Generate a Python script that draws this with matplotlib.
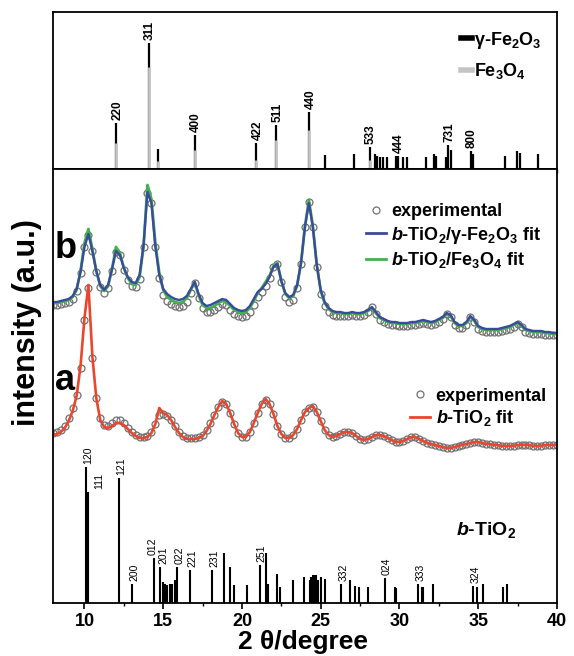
import numpy as np
import matplotlib
matplotlib.use('Agg')
import matplotlib.pyplot as plt
from matplotlib.lines import Line2D
from matplotlib.ticker import MultipleLocator

plt.rcParams['font.family'] = ['Liberation Sans', 'DejaVu Sans']
plt.rcParams['mathtext.fontset'] = 'custom'
plt.rcParams['mathtext.rm'] = 'Liberation Sans:bold'
plt.rcParams['mathtext.it'] = 'Liberation Sans:italic:bold'
plt.rcParams['mathtext.bf'] = 'Liberation Sans:bold'

# 2theta sampling of the measured patterns (degrees)
two_theta = np.arange(8.0, 40.001, 0.25)

# pattern b (relative intensity above its own baseline)
b_exp = [30, 30, 31, 32, 33, 36, 44, 62, 88, 100, 84, 63, 48, 42, 47, 64, 83, 80, 65, 55,
         49, 48, 56, 88, 142, 132, 88, 57, 40, 34, 31, 29, 28, 29, 33, 42, 52, 37, 27, 23,
         23, 25, 28, 31, 30, 25, 21, 19, 18, 19, 23, 30, 38, 43, 49, 57, 68, 71, 53, 38,
         33, 35, 47, 71, 108, 133, 108, 68, 41, 29, 23, 20, 19, 19, 19, 19, 20, 19, 19, 20,
         23, 28, 21, 15,
         13, 11, 10, 10, 9, 9, 9, 10, 10, 11, 12, 11, 10, 11, 13, 16, 21, 18, 10, 7,
         7, 10, 18, 13, 6, 4, 3, 3, 3, 3, 4, 5, 6, 8, 11, 8, 3, 2, 1, 1, 1, 0, 0, 0, 0]
b_fit_gamma = [33, 33, 34, 35, 36, 39, 46, 63, 88, 101, 84, 64, 50, 45, 50, 66, 84, 80, 67, 58,
               53, 52, 60, 90, 143, 132, 88, 60, 46, 41, 38, 36, 35, 36, 39, 46, 53, 41, 32, 29,
               30, 32, 34, 36, 35, 31, 27, 25, 24, 25, 29, 36, 43, 46, 51, 58, 68, 71, 54, 42,
               38, 40, 50, 72, 108, 132, 108, 70, 45, 33, 27, 24, 23, 23, 22, 22, 23, 22, 22, 23,
               25, 28, 23, 18,
               16, 14, 13, 13, 12, 12, 12, 13, 13, 14, 15, 14, 13, 14, 16, 18, 22, 20, 13, 10,
               10, 13, 19, 15, 9, 7, 6, 6, 6, 6, 7, 8, 9, 11, 13, 10, 6, 5, 4, 4, 4, 3, 3, 2, 2]
b_fit_fe3o4 = [32, 32, 33, 34, 35, 38, 45, 64, 92, 106, 86, 64, 49, 44, 49, 66, 88, 82, 67, 57,
               51, 50, 58, 88, 150, 136, 92, 62, 45, 38, 35, 33, 32, 33, 37, 45, 53, 39, 30, 27,
               27, 29, 32, 34, 33, 29, 25, 23, 22, 23, 27, 34, 42, 47, 53, 59, 69, 72, 54, 41,
               37, 39, 49, 72, 109, 135, 109, 70, 44, 32, 26, 23, 22, 22, 21, 21, 22, 21, 21, 22,
               24, 27, 22, 17,
               15, 13, 12, 12, 11, 11, 11, 12, 12, 13, 14, 13, 12, 13, 15, 17, 21, 19, 12, 9,
               9, 12, 18, 14, 8, 6, 5, 5, 5, 5, 6, 7, 8, 10, 12, 9, 5, 4, 3, 3, 3, 2, 2, 1, 1]

# pattern a
a_exp = [15, 16, 18, 22, 30, 40, 53, 80, 128, 160, 90, 50, 30, 23, 22, 25, 28, 28, 25, 20,
         16, 13, 11, 11, 12, 16, 24, 33, 34, 32, 28, 22, 16, 12, 10, 10, 10, 11, 13, 18,
         25, 33, 41, 46, 44, 35, 24, 15, 11, 11, 16, 25, 35, 44, 48, 44, 34, 22, 14, 10,
         10, 13, 19, 28, 36, 40, 41, 36,
         27, 18, 13, 11, 12, 14, 16, 16, 15, 12, 9, 8, 9, 11, 13, 13, 12, 10, 8, 6,
         6, 7, 9, 11, 11, 9, 7, 5, 4, 3, 2, 1, 0, 0, 1, 2, 3, 4, 5, 6,
         6, 5, 4, 4, 3, 3, 2, 2, 2, 2, 3, 3, 3, 3, 2, 2, 2, 3, 3, 3, 3]
a_fit = [13, 14, 16, 20, 27, 37, 52, 82, 130, 163, 92, 50, 28, 21, 20, 22, 25, 25, 23, 19,
         15, 12, 10, 10, 11, 15, 24, 40, 35, 33, 28, 21, 15, 11, 9, 9, 9, 10, 12, 17,
         24, 33, 41, 47, 44, 35, 24, 15, 11, 11, 16, 25, 35, 44, 49, 44, 34, 22, 14, 10,
         10, 13, 19, 28, 36, 40, 42, 36,
         27, 18, 13, 11, 12, 14, 16, 16, 15, 12, 9, 8, 9, 11, 13, 13, 12, 10, 8, 6,
         6, 7, 9, 11, 11, 9, 7, 5, 4, 3, 2, 1, 0, 0, 1, 2, 3, 4, 5, 6,
         6, 5, 4, 4, 3, 3, 2, 2, 2, 2, 3, 3, 3, 3, 2, 2, 2, 3, 3, 3, 3]

for s in (b_exp, b_fit_gamma, b_fit_fe3o4, a_exp, a_fit):
    assert len(s) == len(two_theta), len(s)

# reference patterns (top panel)
gamma_pos = [12.01, 14.07, 14.7, 17.0, 20.9, 22.19, 24.26, 25.3, 27.1, 28.1, 28.46, 28.6,
             28.75, 28.96, 29.2, 29.77, 29.88, 30.2, 30.5, 31.7, 32.2, 32.3, 32.93, 33.1,
             33.25, 34.52, 34.65, 36.7, 37.48, 37.65, 38.78]
gamma_h = [46, 126, 20, 34, 26, 44, 57, 14, 15, 22, 15, 13, 12, 12, 12, 13, 13, 12, 12, 12,
           15, 13, 12, 24, 19, 18, 15, 13, 18, 16, 15]
fe3o4_pos = [12.01, 14.07, 14.7, 17.0, 20.9, 22.19, 24.26, 28.1]
fe3o4_h = [26, 102, 8, 19, 9, 29, 39, 9]
gamma_labels = {'220': 12.01, '311': 14.07, '400': 17.0, '422': 20.9, '511': 22.19,
                '440': 24.26, '533': 28.1, '444': 29.88, '731': 33.1, '800': 34.52}

# b-TiO2 reference sticks (bottom)
ti_pos = [10.1, 10.25, 12.2, 13.03, 14.39, 14.77, 14.98, 15.1, 15.26, 15.45, 15.57, 15.76,
          15.87, 16.72, 18.12, 18.84, 19.26, 19.47, 20.34, 21.13, 21.55, 21.68, 22.2, 22.4,
          23.24, 23.94, 24.3, 24.4, 24.5, 24.6, 24.7, 24.8, 25.0, 25.3, 26.3, 26.85, 27.2,
          27.4, 28.0, 29.07, 29.7, 29.8, 31.2, 31.4, 31.5, 32.1, 34.7, 34.9, 35.3, 36.6, 36.85]
ti_h = [136, 111, 125, 19, 45, 36, 21, 19, 18, 19, 19, 23, 36, 33, 33, 50, 36, 18, 18, 38,
        50, 19, 29, 16, 23, 26, 23, 26, 28, 28, 28, 23, 26, 24, 19, 23, 17, 16, 16, 25,
        16, 15, 19, 16, 16, 19, 17, 16, 19, 16, 19]
ti_labels = {'120': 10.1, '111': 10.25, '121': 12.2, '200': 13.03, '012': 14.39,
             '201': 14.77, '022': 15.87, '221': 16.72, '231': 18.12, '251': 21.13,
             '332': 26.3, '024': 29.07, '333': 31.2, '324': 34.7}
label_nudge = {'111': 8, '012': -1, '201': 2.5, '022': 2}

offset_a = 155
offset_b = 268

fig = plt.figure(figsize=(5.74, 6.56), dpi=100)
ax_top = fig.add_axes([0.0923, 0.742, 0.878, 0.2393])
ax = fig.add_axes([0.0923, 0.0808, 0.878, 0.6616])

# --- top panel: iron oxide references
ax_top.vlines(gamma_pos, 0, gamma_h, color='black', lw=1.6)
ax_top.vlines(fe3o4_pos, 0, fe3o4_h, color='#c4c4c4', lw=2.0)
for hkl, pos in gamma_labels.items():
    h = max(gamma_h[i] for i, p in enumerate(gamma_pos) if p == pos)
    ax_top.annotate(hkl, xy=(pos, h), xytext=(1, 2), textcoords='offset points',
                    rotation=90, ha='center', va='bottom', fontsize=8.5, fontweight='bold')
ax_top.set_xlim(8, 40)
ax_top.set_ylim(0, 157)
ax_top.set_yticks([])
ax_top.xaxis.set_major_locator(MultipleLocator(2.5))
ax_top.tick_params(axis='x', direction='out', length=3, width=1, labelbottom=False)
for sp in ax_top.spines.values():
    sp.set_linewidth(1.3)
top_handles = [Line2D([], [], color='black', lw=4), Line2D([], [], color='#c4c4c4', lw=4)]
ax_top.legend(top_handles, ['γ-Fe$_2$O$_3$', 'Fe$_3$O$_4$'], loc='upper right',
              bbox_to_anchor=(0.969, 0.89), frameon=False, handlelength=0.6,
              handletextpad=0.1, labelspacing=0.6, borderaxespad=0, borderpad=0,
              prop={'size': 13, 'weight': 'bold'})

# --- main panel
ms = dict(ls='none', marker='o', mfc='none', mec='#707070', ms=5.0, mew=0.9)
ax.plot(two_theta, np.array(b_exp) + offset_b, **ms)
ax.plot(two_theta, np.array(b_fit_fe3o4) + offset_b, color='#3fb34f', lw=2.0)
ax.plot(two_theta, np.array(b_fit_gamma) + offset_b, color='#3b4a9c', lw=1.7)
ax.plot(two_theta, np.array(a_exp) + offset_a, **ms)
ax.plot(two_theta, np.array(a_fit) + offset_a, color='#e8472e', lw=1.9)

ax.vlines(ti_pos, 0, ti_h, color='black', lw=1.5)
for hkl, pos in ti_labels.items():
    h = ti_h[ti_pos.index(pos)]
    ax.annotate(hkl, xy=(pos, h), xytext=(label_nudge.get(hkl, 1.5), 2),
                textcoords='offset points', rotation=90, ha='center', va='bottom',
                fontsize=7.5)

ax.text(0.004, 345, 'b', fontsize=26, fontweight='bold', va='baseline',
        transform=ax.get_yaxis_transform())
ax.text(0.004, 213, 'a', fontsize=26, fontweight='bold', va='baseline',
        transform=ax.get_yaxis_transform())
ax.text(0.80, 0.168, '$b$-TiO$_2$', fontsize=14, fontweight='bold', va='center',
        transform=ax.transAxes)

exp_h = Line2D([], [], **ms)
b_handles = [exp_h, Line2D([], [], color='#3b4a9c', lw=2), Line2D([], [], color='#3fb34f', lw=2)]
ax.legend(b_handles, ['experimental', '$b$-TiO$_2$/γ-Fe$_2$O$_3$ fit', '$b$-TiO$_2$/Fe$_3$O$_4$ fit'],
          loc='upper right', bbox_to_anchor=(0.969, 0.921), frameon=False, numpoints=1,
          handlelength=1.1, handletextpad=0.3, labelspacing=0.25, borderaxespad=0, borderpad=0,
          prop={'size': 13, 'weight': 'bold'})
leg_b = ax.get_legend()
ax.add_artist(leg_b)
a_handles = [exp_h, Line2D([], [], color='#e8472e', lw=2)]
ax.legend(a_handles, ['experimental', '$b$-TiO$_2$ fit'], loc='upper right',
          bbox_to_anchor=(0.98, 0.496), frameon=False, numpoints=1,
          handlelength=1.1, handletextpad=0.3, labelspacing=0.2, borderaxespad=0, borderpad=0,
          prop={'size': 13, 'weight': 'bold'})

ax.set_xlim(8, 40)
ax.set_ylim(0, 434)
ax.set_yticks([])
ax.xaxis.set_major_locator(MultipleLocator(5))
ax.xaxis.set_minor_locator(MultipleLocator(2.5))
ax.tick_params(axis='x', which='major', direction='out', length=4, width=1.2, pad=3.5,
               labelsize=13)
ax.tick_params(axis='x', which='minor', direction='out', length=2.5, width=1)
for lab in ax.get_xticklabels():
    lab.set_fontweight('bold')
for sp in ax.spines.values():
    sp.set_linewidth(1.3)

fig.text(0.528, 0.011, '2 θ/degree', fontsize=19, fontweight='bold', ha='center', va='baseline')
fig.text(0.047, 0.509, 'intensity (a.u.)', fontsize=22, fontweight='bold', rotation=90,
         ha='center', va='center')

fig.savefig('out.png', dpi=100)
